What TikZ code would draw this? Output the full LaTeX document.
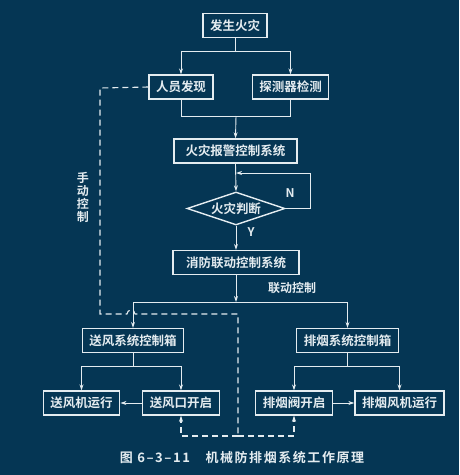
\documentclass[tikz,border=0pt]{standalone}
\usepackage{fontspec}
\setmainfont{Noto Sans CJK SC}[BoldFont={Noto Sans CJK SC Bold}]
\usetikzlibrary{arrows.meta,shapes.geometric}
\definecolor{board}{RGB}{5,54,84}
\definecolor{chalk}{RGB}{228,236,240}
\tikzset{
  box/.style={draw=chalk, line width=1.4pt, text=chalk, inner xsep=7pt, minimum height=24pt,
    font=\fontsize{12.5}{14}\selectfont\bfseries},
  decide/.style={draw=chalk, line width=1.4pt, text=chalk, shape=diamond, aspect=3, inner sep=0pt,
    minimum width=98pt, minimum height=33pt, font=\fontsize{12.5}{14}\selectfont\bfseries},
  arr/.style={draw=chalk, line width=0.9pt, -{Stealth[length=6pt,width=4pt]}},
  wire/.style={draw=chalk, line width=0.9pt},
  manual/.style={draw=chalk, line width=1.1pt, dash pattern=on 6pt off 4pt},
  tag/.style={text=chalk, font=\fontsize{12}{14}\selectfont\bfseries}
}
\begin{document}
\begin{tikzpicture}[x=1pt,y=-1pt]
\fill[board] (0,0) rectangle (459,475);
\useasboundingbox (0,0) rectangle (459,475);
\node[box] (fire) at (235,25.5) {发生火灾};
\node[box] (person) at (181,87) {人员发现};
\node[box] (detect) at (290.5,87) {探测器检测};
\node[box, minimum width=123pt] (alarm) at (235.5,151) {火灾报警控制系统};
\node[decide] (judge) at (236,208.5) {火灾判断};
\node[box, minimum width=126pt] (linkage) at (236,262.5) {消防联动控制系统};
\node[box] (supply) at (133,340.5) {送风系统控制箱};
\node[box] (smoke) at (347.5,340.5) {排烟系统控制箱};
\node[box] (sfan) at (81.5,403) {送风机运行};
\node[box] (sport) at (181,403) {送风口开启};
\node[box] (svalve) at (294,403) {排烟阀开启};
\node[box] (xfan) at (399.5,403) {排烟风机运行};
\coordinate (split) at (235,51);
\coordinate (join) at (236,116);
\coordinate (back) at (236,173);
\coordinate (bus) at (236,302);
\coordinate (sbus) at (133,366);
\coordinate (xbus) at (347.5,366);
\coordinate (mbend) at (100,88);
\coordinate (mdrop) at (238,436);
\draw[wire] (fire.south) -- (split);
\draw[arr] (split) -| (person.north);
\draw[arr] (split) -| (detect.north);
\draw[wire] (person.south) |- (join);
\draw[wire] (detect.south) |- (join);
\draw[arr] (join) -- (alarm.north);
\draw[arr] (alarm.south) -- (judge.north);
\draw[arr] (judge.east) -- (310,208.5) -- (310,173) -- (back);
\draw[arr] (judge.south) -- (linkage.north);
\draw[arr] (linkage.south) -- (bus);
\draw[arr] (bus) -| (supply.north);
\draw[arr] (bus) -| (smoke.north);
\draw[wire] (supply.south) -- (sbus);
\draw[arr] (sbus) -| (sfan.north);
\draw[arr] (sbus) -| (sport.north);
\draw[wire] (smoke.south) -- (xbus);
\draw[arr] (xbus) -| (svalve.north);
\draw[arr] (xbus) -| (xfan.north);
\draw[arr] (sport.west) -- (sfan.east);
\draw[arr] (svalve.east) -- (xfan.west);
\draw[manual] (person.west) -- (mbend) -- (100,314) -- (127,314) arc[start angle=180, end angle=0, radius=4pt] -- (238,314) -- (mdrop);
\draw[manual, -{Stealth[length=6pt,width=4pt]}] (mdrop) -| (sport.south);
\draw[manual, -{Stealth[length=6pt,width=4pt]}] (mdrop) -| (svalve.south);
\node[tag] (ylabel) at (251,232) {Y};
\node[tag] (nlabel) at (290,193) {N};
\node[tag] (autolabel) at (292,288) {联动控制};
\node[tag, align=center, inner sep=0pt] (manlabel) at (83,197) {手\\[-1pt]动\\[-1pt]控\\[-1pt]制};
\node[tag, font=\fontsize{13}{15}\selectfont\bfseries\addfontfeatures{LetterSpace=12}] (caption) at (242,458) {图 6--3--11\hspace{1.2em}机械防排烟系统工作原理};
\end{tikzpicture}
\end{document}
